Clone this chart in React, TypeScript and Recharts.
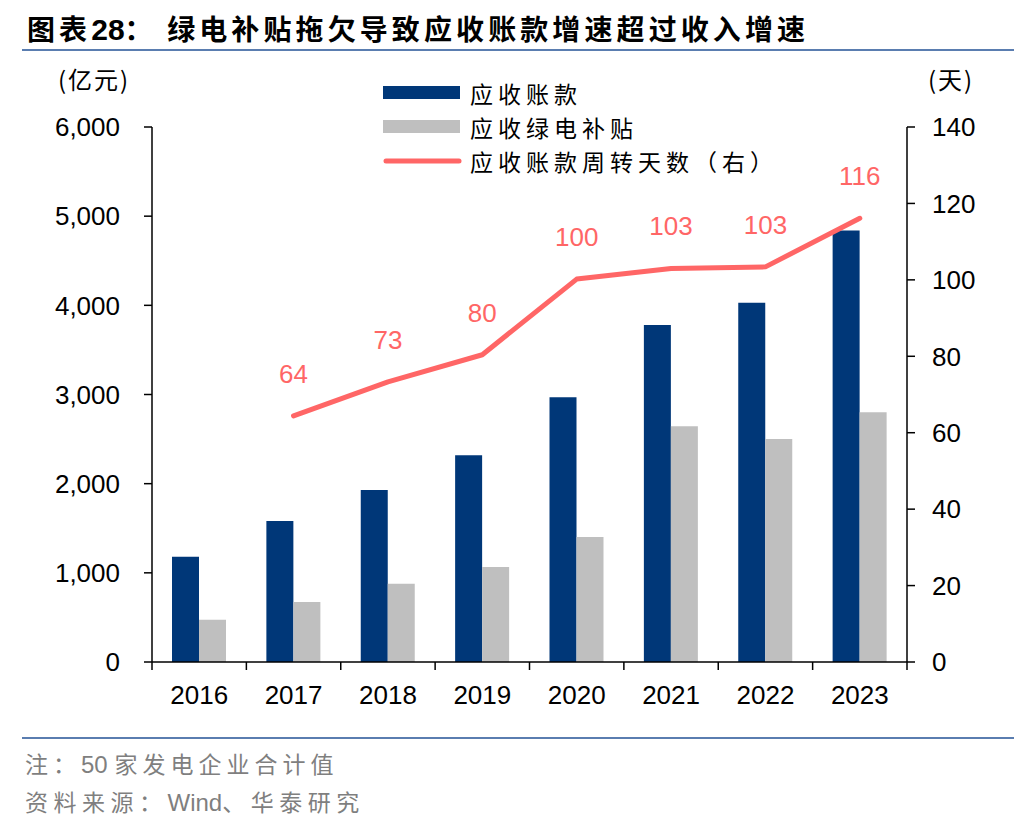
import React from "react";
import {
  ComposedChart,
  Bar,
  Line,
  XAxis,
  YAxis,
  LabelList,
} from "recharts";

const years = ["2016", "2017", "2018", "2019", "2020", "2021", "2022", "2023"];
const receivables = [1180, 1580, 1930, 2320, 2970, 3780, 4030, 4840];
const subsidies = [475, 673, 877, 1065, 1402, 2645, 2500, 2800];
const turnoverDays: (number | null)[] = [null, 64.4, 73.3, 80.4, 100.2, 103.0, 103.4, 116.1];
const leftTicks = [0, 1000, 2000, 3000, 4000, 5000, 6000];
const rightTicks = [0, 20, 40, 60, 80, 100, 120, 140];

const seriesNames = ["应收账款", "应收绿电补贴", "应收账款周转天数（右）"];
const BLUE = "#003778";
const GRAY = "#bfbfbf";
const RED = "#ff6666";

const data = years.map((y, i) => ({
  year: y,
  receivable: receivables[i],
  subsidy: subsidies[i],
  days: turnoverDays[i],
}));

const NUM_FONT = "'Liberation Sans', Arial, sans-serif";
const CJK_FONT = "'Noto Sans CJK SC', sans-serif";

const XTick = (props: any) => {
  const { x, y, payload, index, visibleTicksCount } = props;
  const off = payload && typeof payload.offset === "number" ? payload.offset : 0;
  const last = index === (visibleTicksCount ?? years.length) - 1;
  return (
    <g>
      <line x1={x - off} x2={x - off} y1={y} y2={y + 8} stroke="#000" strokeWidth={1.5} />
      {last && (
        <line x1={x + off} x2={x + off} y1={y} y2={y + 8} stroke="#000" strokeWidth={1.5} />
      )}
      <text
        x={x}
        y={y + 24}
        dy="0.71em"
        textAnchor="middle"
        fontSize={26}
        fontFamily={NUM_FONT}
        fill="#000"
      >
        {payload.value}
      </text>
    </g>
  );
};

const DayLabel = (props: any) => {
  const { x, y, value } = props;
  if (value === null || value === undefined) return null;
  return (
    <text
      x={x}
      y={y - 42}
      textAnchor="middle"
      dominantBaseline="central"
      fontSize={26}
      fontFamily={NUM_FONT}
      fill={RED}
    >
      {Math.round(value)}
    </text>
  );
};

const LegendBlock = () => {
  const row = (i: number, swatch: React.ReactNode) => (
    <div key={i} style={{ display: "flex", alignItems: "center", height: 34 }}>
      <svg width={87} height={20} style={{ display: "block" }}>
        {swatch}
      </svg>
      <span
        style={{
          fontFamily: CJK_FONT,
          fontSize: 23,
          letterSpacing: 5,
          color: "#000",
          lineHeight: "34px",
          whiteSpace: "nowrap",
        }}
      >
        {seriesNames[i]}
      </span>
    </div>
  );
  return (
    <div style={{ position: "absolute", left: 383, top: 76 }}>
      {row(0, <rect x={0} y={3} width={77} height={13} fill={BLUE} />)}
      {row(1, <rect x={0} y={3} width={77} height={13} fill={GRAY} />)}
      {row(
        2,
        <line x1={3} x2={76} y1={10} y2={10} stroke={RED} strokeWidth={5} strokeLinecap="round" />
      )}
    </div>
  );
};

const latin: React.CSSProperties = { letterSpacing: 0, fontFamily: NUM_FONT, fontSize: 24 };

export default function App() {
  return (
    <div
      style={{
        position: "relative",
        width: 1036,
        height: 828,
        marginLeft: -8,
        marginTop: -8,
        background: "#fff",
        overflow: "hidden",
      }}
    >
      <div
        style={{
          position: "absolute",
          left: 27,
          top: 8,
          fontFamily: CJK_FONT,
          fontWeight: 700,
          fontSize: 28,
          letterSpacing: 4.1,
          color: "#000",
          whiteSpace: "nowrap",
          lineHeight: "40px",
        }}
      >
        图表<span style={{ letterSpacing: 0, fontFamily: NUM_FONT, fontSize: 30 }}>28</span>：&nbsp;绿电补贴拖欠导致应收账款增速超过收入增速
      </div>
      <div
        style={{
          position: "absolute",
          left: 22,
          top: 49,
          width: 992,
          height: 2,
          background: "#5a7db0",
        }}
      />
      <div
        style={{
          position: "absolute",
          left: 58,
          top: 62,
          fontFamily: CJK_FONT,
          fontSize: 24,
          letterSpacing: 2,
          color: "#000",
          lineHeight: "34px",
          whiteSpace: "nowrap",
        }}
      >
        (亿元)
      </div>
      <div
        style={{
          position: "absolute",
          left: 928,
          top: 62,
          fontFamily: CJK_FONT,
          fontSize: 24,
          letterSpacing: 2,
          color: "#000",
          lineHeight: "34px",
          whiteSpace: "nowrap",
        }}
      >
        (天)
      </div>

      <div style={{ position: "absolute", left: 0, top: 0 }}>
        <ComposedChart
          width={1036}
          height={828}
          data={data}
          margin={{ top: 127, right: 0, left: 0, bottom: 0 }}
          barGap={0}
        >
          <XAxis
            dataKey="year"
            height={166}
            axisLine={{ stroke: "#000", strokeWidth: 1.5 }}
            tickLine={false}
            tickSize={0}
            tickMargin={0}
            tick={<XTick />}
            interval={0}
          />
          <YAxis
            yAxisId="left"
            orientation="left"
            width={152}
            domain={[0, 6000]}
            ticks={leftTicks}
            interval={0}
            tickFormatter={(v: number) => v.toLocaleString("en-US")}
            axisLine={{ stroke: "#000", strokeWidth: 1.5 }}
            tickLine={{ stroke: "#000", strokeWidth: 1.5 }}
            tickSize={8}
            tickMargin={24}
            tick={{ fontSize: 26, fill: "#000", fontFamily: NUM_FONT }}
          />
          <YAxis
            yAxisId="right"
            orientation="right"
            width={129}
            domain={[0, 140]}
            ticks={rightTicks}
            interval={0}
            axisLine={{ stroke: "#000", strokeWidth: 1.5 }}
            tickLine={{ stroke: "#000", strokeWidth: 1.5 }}
            tickSize={8}
            tickMargin={17}
            tick={{ fontSize: 26, fill: "#000", fontFamily: NUM_FONT }}
          />
          <Bar
            yAxisId="left"
            dataKey="receivable"
            name={seriesNames[0]}
            fill={BLUE}
            barSize={27}
            isAnimationActive={false}
          />
          <Bar
            yAxisId="left"
            dataKey="subsidy"
            name={seriesNames[1]}
            fill={GRAY}
            barSize={27}
            isAnimationActive={false}
          />
          <Line
            yAxisId="right"
            dataKey="days"
            name={seriesNames[2]}
            stroke={RED}
            strokeWidth={5}
            strokeLinecap="round"
            strokeLinejoin="round"
            dot={false}
            activeDot={false}
            connectNulls={false}
            isAnimationActive={false}
          >
            <LabelList dataKey="days" content={<DayLabel />} />
          </Line>
        </ComposedChart>
      </div>

      <LegendBlock />

      <div
        style={{
          position: "absolute",
          left: 22,
          top: 737,
          width: 992,
          height: 2,
          background: "#5a7db0",
        }}
      />
      <div
        style={{
          position: "absolute",
          left: 25,
          top: 746,
          fontFamily: CJK_FONT,
          fontSize: 23,
          letterSpacing: 5,
          color: "#7f7f7f",
          lineHeight: "34px",
          whiteSpace: "nowrap",
        }}
      >
        注：<span style={latin}>50&nbsp;</span>家发电企业合计值
      </div>
      <div
        style={{
          position: "absolute",
          left: 25,
          top: 784,
          fontFamily: CJK_FONT,
          fontSize: 23,
          letterSpacing: 5.5,
          color: "#7f7f7f",
          lineHeight: "34px",
          whiteSpace: "nowrap",
        }}
      >
        资料来源：<span style={latin}>Wind</span>、华泰研究
      </div>
    </div>
  );
}
